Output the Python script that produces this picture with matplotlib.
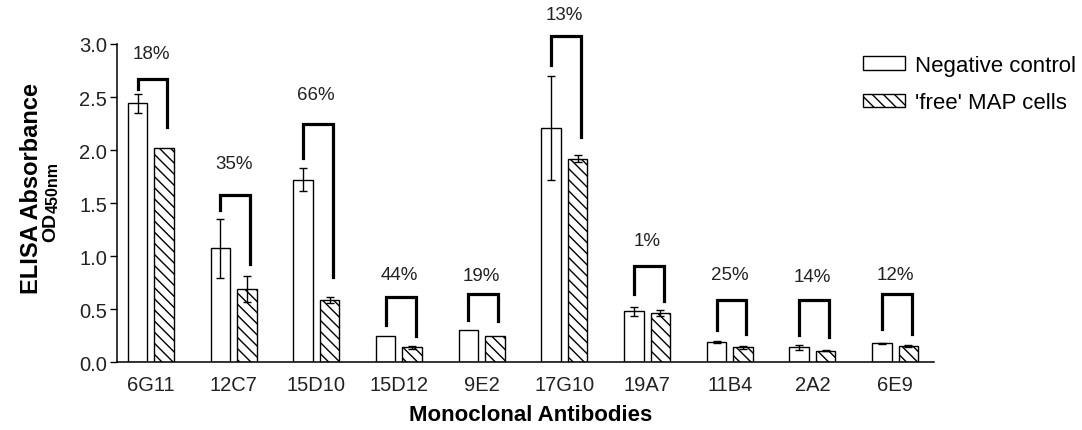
import numpy as np
import matplotlib
matplotlib.use('Agg')
import matplotlib.pyplot as plt
from matplotlib.patches import Patch

plt.rcParams['font.family'] = ['Liberation Sans', 'DejaVu Sans']
plt.rcParams['hatch.linewidth'] = 1.0

# data
antibodies = ['6G11', '12C7', '15D10', '15D12', '9E2', '17G10', '19A7', '11B4', '2A2', '6E9']
neg_ctrl = [2.44, 1.075, 1.72, 0.25, 0.30, 2.21, 0.48, 0.195, 0.14, 0.18]
neg_err = [0.09, 0.28, 0.11, 0.0, 0.0, 0.49, 0.04, 0.01, 0.02, 0.005]
free_map = [2.02, 0.69, 0.59, 0.14, 0.25, 1.92, 0.465, 0.14, 0.11, 0.157]
map_err = [0.0, 0.12, 0.03, 0.01, 0.0, 0.03, 0.03, 0.01, 0.005, 0.01]

# reduction labels and bracket geometry (top, left leg end, right leg end)
pct_labels = ['18%', '35%', '66%', '44%', '19%', '13%', '1%', '25%', '14%', '12%']
pct_y = [2.91, 1.87, 2.52, 0.83, 0.82, 3.28, 1.15, 0.83, 0.81, 0.83]
br_top = [2.67, 1.58, 2.25, 0.62, 0.64, 3.08, 0.905, 0.59, 0.59, 0.64]
br_left = [2.58, 1.44, 1.93, 0.35, 0.40, 2.80, 0.645, 0.305, 0.26, 0.31]
br_right = [2.22, 0.93, 0.80, 0.25, 0.39, 2.12, 0.58, 0.27, 0.235, 0.27]

W, H = 1082, 431
fig = plt.figure(figsize=(W / 100, H / 100), dpi=100)
ax = fig.add_axes([117 / W, 1 - 363.3 / H, (934 - 117) / W, (363.3 - 45) / H])

x = np.arange(len(antibodies))
off = 0.16
bw = 0.235
hatch = '\\\\\\'

ax.bar(x - off, neg_ctrl, bw, color='white', edgecolor='black', linewidth=1.0, zorder=2)
ax.bar(x + off, free_map, bw, color='white', edgecolor='black', linewidth=1.0,
       hatch=hatch, zorder=2)

ne = np.array(neg_err)
me = np.array(map_err)
m = ne > 0
ax.errorbar((x - off)[m], np.array(neg_ctrl)[m], yerr=ne[m], fmt='none',
            ecolor='black', elinewidth=1.0, capsize=3, capthick=1.0, zorder=3)
m = me > 0
ax.errorbar((x + off)[m], np.array(free_map)[m], yerr=me[m], fmt='none',
            ecolor='black', elinewidth=1.0, capsize=3, capthick=1.0, zorder=3)

for i in range(len(antibodies)):
    xl = x[i] - off
    xr = x[i] + off + 0.04
    ax.plot([xl, xl, xr, xr], [br_left[i], br_top[i], br_top[i], br_right[i]],
            color='black', lw=2.3, clip_on=False, solid_joinstyle='miter', zorder=4)
    ax.text(x[i], pct_y[i], pct_labels[i], ha='center', va='center',
            fontsize=13.5, color='#222222', clip_on=False)

ax.set_xlim(-0.41, 9.47)
ax.set_ylim(0, 3.0)
ax.set_yticks(np.arange(0, 3.01, 0.5))
ax.set_yticklabels(['%.1f' % v for v in np.arange(0, 3.01, 0.5)])
ax.set_xticks(x)
ax.set_xticklabels(antibodies)
ax.tick_params(axis='x', length=0, pad=9, labelsize=14.5, labelcolor='#222222')
ax.tick_params(axis='y', length=5, width=1, pad=2, labelsize=14.5, labelcolor='#222222')
for s in ['top', 'right']:
    ax.spines[s].set_visible(False)
for s in ['left', 'bottom']:
    ax.spines[s].set_linewidth(1.1)

fig.text(531 / W, 1 - 416 / H, 'Monoclonal Antibodies', ha='center', va='center',
         fontsize=16, fontweight='bold')
fig.text(32 / W, 1 - 189 / H, 'ELISA Absorbance', ha='center', va='center',
         rotation=90, fontsize=17, fontweight='bold')
od = fig.text(51 / W, 1 - 242 / H, 'OD', ha='center', va='bottom',
              rotation=90, fontsize=14, fontweight='bold')
fig.canvas.draw()
ax.annotate('450nm', xy=(1, 1), xycoords=od, xytext=(1, 0), textcoords='offset points',
            ha='right', va='bottom', rotation=90, fontsize=11.5, fontweight='bold',
            annotation_clip=False)

handles = [Patch(facecolor='white', edgecolor='black', linewidth=1.0),
           Patch(facecolor='white', edgecolor='black', linewidth=1.0, hatch=hatch)]
fig.legend(handles, ['Negative control', "'free' MAP cells"], loc='upper left',
           bbox_to_anchor=(863 / W, 1 - 56 / H), frameon=False, fontsize=16,
           handlelength=1.9, handleheight=0.55, handletextpad=0.45,
           labelspacing=0.74, borderpad=0, borderaxespad=0)

fig.savefig('out.png', dpi=100)
